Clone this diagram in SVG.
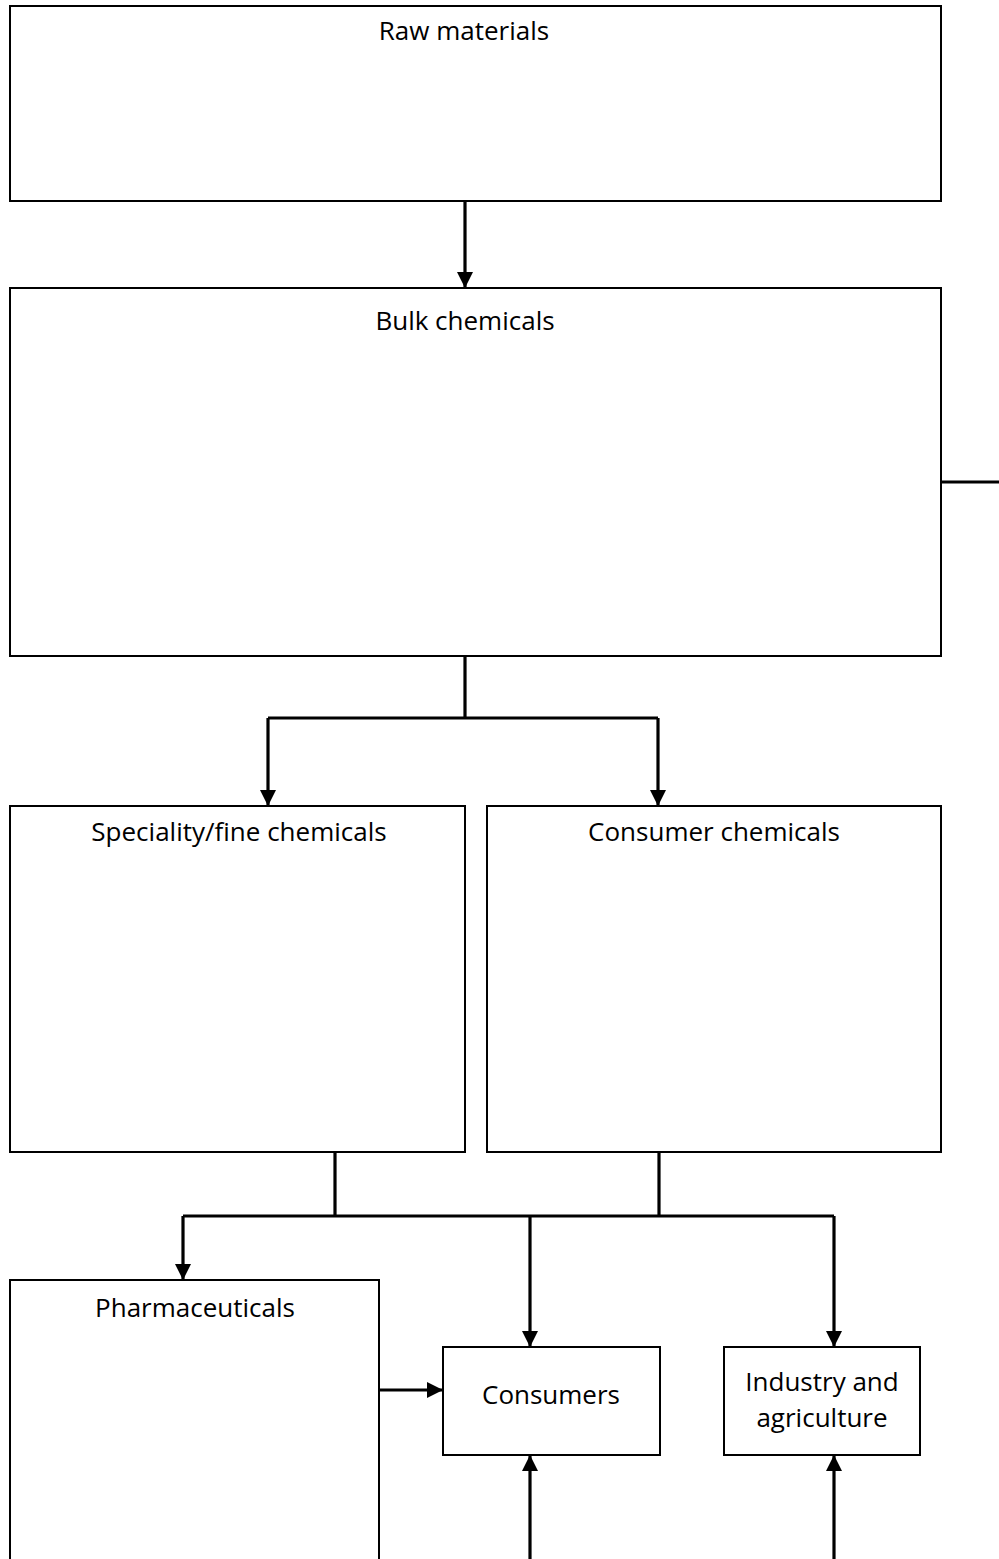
<svg xmlns="http://www.w3.org/2000/svg" width="999" height="1559" viewBox="0 0 999 1559">
<style>
.box{fill:#fff;stroke:#000;stroke-width:2}
.lbl{font-family:"Open Sans","Noto Sans",sans-serif;font-size:26px;fill:#000;text-anchor:middle}
.con{fill:none;stroke:#000;stroke-width:3.2}
</style>
<defs>
<marker id="ah" viewBox="0 0 10 10" refX="10" refY="5" markerWidth="5" markerHeight="5" markerUnits="strokeWidth" orient="auto">
<path d="M0,0 L10,5 L0,10 Z" fill="#000"/>
</marker>
</defs>
<rect width="999" height="1559" fill="#fff"/>
<g id="raw"><rect class="box" x="10" y="6" width="931" height="195"/><text class="lbl" x="464" y="40">Raw materials</text></g>
<g id="bulk"><rect class="box" x="10" y="288" width="931" height="368"/><text class="lbl" x="465" y="330">Bulk chemicals</text></g>
<g id="speciality"><rect class="box" x="10" y="806" width="455" height="346"/><text class="lbl" x="239" y="841">Speciality/fine chemicals</text></g>
<g id="consumerchem"><rect class="box" x="487" y="806" width="454" height="346"/><text class="lbl" x="714" y="841">Consumer chemicals</text></g>
<g id="pharma"><rect class="box" x="10" y="1280" width="369" height="300"/><text class="lbl" x="195" y="1317">Pharmaceuticals</text></g>
<g id="consumers"><rect class="box" x="443" y="1347" width="217" height="108"/><text class="lbl" x="551" y="1404">Consumers</text></g>
<g id="industry"><rect class="box" x="724" y="1347" width="196" height="108"/><text class="lbl" x="822" y="1391">Industry and</text><text class="lbl" x="822" y="1427">agriculture</text></g>
<g id="connectors">
<path class="con" d="M465,201 V288" marker-end="url(#ah)"/>
<path class="con" d="M941,482 H999"/>
<path class="con" d="M465,656 V718"/>
<path class="con" d="M268,718 H658"/>
<path class="con" d="M268,718 V806" marker-end="url(#ah)"/>
<path class="con" d="M658,718 V806" marker-end="url(#ah)"/>
<path class="con" d="M335,1152 V1216"/>
<path class="con" d="M659,1152 V1216"/>
<path class="con" d="M183,1216 H834"/>
<path class="con" d="M183,1216 V1280" marker-end="url(#ah)"/>
<path class="con" d="M530,1216 V1347" marker-end="url(#ah)"/>
<path class="con" d="M834,1216 V1347" marker-end="url(#ah)"/>
<path class="con" d="M379,1390 H443" marker-end="url(#ah)"/>
<path class="con" d="M530,1559 V1455" marker-end="url(#ah)"/>
<path class="con" d="M834,1559 V1455" marker-end="url(#ah)"/>
</g>
</svg>
